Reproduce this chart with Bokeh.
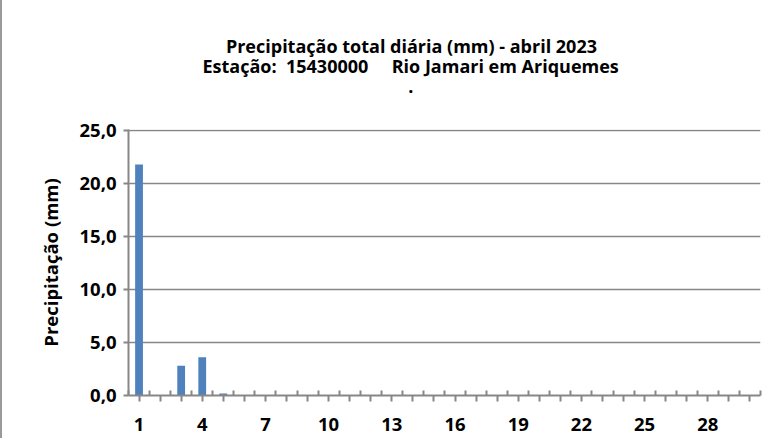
from bokeh.plotting import figure
from bokeh.models import Range1d, FixedTicker, Title, ColumnDataSource
from bokeh.embed import file_html
from bokeh.resources import INLINE

days = list(range(1, 31))
precip = [21.8, 0.0, 2.8, 3.6, 0.2] + [0.0] * 25
x_tick_labels = {d: (str(d) if (d - 1) % 3 == 0 else "") for d in days}
y_ticks = [0, 5, 10, 15, 20, 25]
y_tick_labels = {t: f"{t},0" for t in y_ticks}
title1 = "Precipitação total diária (mm) - abril 2023"
title2 = "Estação:\u00a0\u00a015430000\u00a0\u00a0\u00a0\u00a0\u00a0Rio Jamari em Ariquemes"
title3 = "."
y_title = "Precipitação (mm)"

FONT = "Open Sans"
FS = "18.5px"
TFS = "18px"
GRAY = "#878787"
NB = "\u00a0"

p = figure(width=766, height=438, output_backend="svg", toolbar_location=None,
           x_range=Range1d(0.5, 30.5), y_range=Range1d(0, 25.1),
           min_border_left=126, min_border_right=8, min_border_top=129, min_border_bottom=43)
p.outline_line_color = None
p.background_fill_color = "white"
p.border_fill_color = "white"
p.styles = {"border-left": "2px solid #9a9a9a"}

src = ColumnDataSource(dict(x=days, y=precip))
p.vbar(x="x", top="y", width=0.37, source=src, fill_color="#4F81BD", line_color=None)

# x axis
p.xaxis.ticker = FixedTicker(ticks=days, minor_ticks=[d + 0.5 for d in range(0, 31)])
p.xaxis.major_label_overrides = x_tick_labels
p.xaxis.major_tick_in = 0
p.xaxis.major_tick_out = 6
p.xaxis.minor_tick_in = 5
p.xaxis.minor_tick_out = 0
p.xaxis.axis_line_color = GRAY
p.xaxis.axis_line_width = 2
p.xaxis.major_tick_line_color = GRAY
p.xaxis.minor_tick_line_color = GRAY
p.xaxis.major_tick_line_width = 2
p.xaxis.minor_tick_line_width = 2
p.xaxis.major_label_standoff = 16
p.xaxis.major_label_text_font = FONT
p.xaxis.major_label_text_font_style = "bold"
p.xaxis.major_label_text_font_size = FS
p.xaxis.major_label_text_color = "black"

# y axis
p.yaxis.ticker = FixedTicker(ticks=y_ticks, minor_ticks=[])
p.yaxis.major_label_overrides = y_tick_labels
p.yaxis.major_tick_in = 0
p.yaxis.major_tick_out = 5
p.yaxis.axis_line_color = GRAY
p.yaxis.axis_line_width = 2
p.yaxis.major_tick_line_color = GRAY
p.yaxis.major_tick_line_width = 2
p.yaxis.major_label_standoff = 7
p.yaxis.major_label_text_font = FONT
p.yaxis.major_label_text_font_style = "bold"
p.yaxis.major_label_text_font_size = FS
p.yaxis.major_label_text_color = "black"
p.yaxis.axis_label = y_title
p.yaxis.axis_label_text_font = FONT
p.yaxis.axis_label_text_font_style = "bold"
p.yaxis.axis_label_text_font_size = FS
p.yaxis.axis_label_text_color = "black"
p.yaxis.axis_label_standoff = 13

p.xgrid.grid_line_color = None
p.ygrid.grid_line_color = GRAY
p.ygrid.grid_line_width = 1.5

title_text = (NB * 5 + title1) + "\n" + title2 + "\n" + (NB * 44 + title3)
p.add_layout(Title(text=title_text, align="left", offset=74, vertical_align="middle",
                   standoff=62, text_line_height=0.82,
                   text_font=FONT, text_font_style="bold", text_font_size=TFS,
                   text_color="black"), "above")

open("out.html", "w").write(file_html(p, INLINE))
